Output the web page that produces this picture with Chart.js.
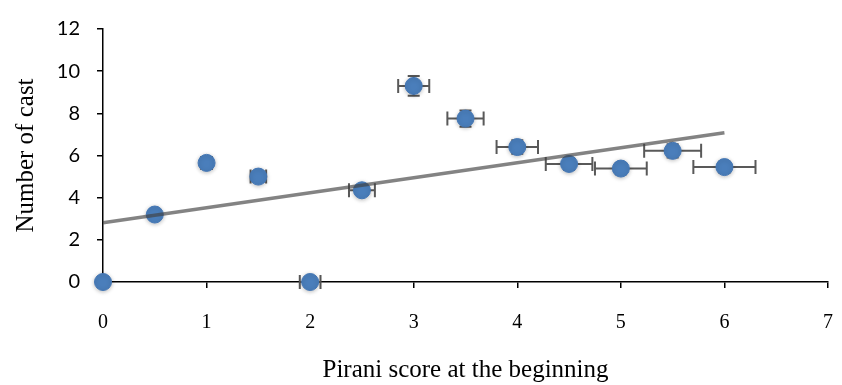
<!DOCTYPE html>
<html>
<head>
<meta charset="utf-8">
<script src="https://cdn.jsdelivr.net/npm/chart.js@4"></script>
<style>
  html, body { margin: 0; padding: 0; background: #fff; }
  #wrap { width: 842px; height: 385px; }
</style>
</head>
<body>
<div id="wrap"><canvas id="chart" width="842" height="385"></canvas></div>
<script>
// Pirani score vs number of casts
const piraniScores = [0, 0.5, 1, 1.5, 2, 2.5, 3, 3.5, 4, 4.5, 5, 5.5, 6];
const castCounts = [0, 3.2, 5.65, 5.0, 0, 4.35, 9.3, 7.75, 6.4, 5.6, 5.38, 6.22, 5.45];
const xErrors = [0, 0.025, 0.05, 0.075, 0.1, 0.125, 0.15, 0.175, 0.2, 0.225, 0.25, 0.275, 0.3];
const yErrors = [0, 0.16, 0.28, 0.25, 0, 0.22, 0.47, 0.39, 0.32, 0.28, 0.27, 0.31, 0.27];
const xTicks = [0, 1, 2, 3, 4, 5, 6, 7];
const yTicks = [0, 2, 4, 6, 8, 10, 12];

// linear trendline (least squares, like Excel)
function linearFit(xs, ys) {
  const n = xs.length;
  const mx = xs.reduce((a, b) => a + b, 0) / n;
  const my = ys.reduce((a, b) => a + b, 0) / n;
  let sxy = 0, sxx = 0;
  xs.forEach((x, i) => { sxy += (x - mx) * (ys[i] - my); sxx += (x - mx) * (x - mx); });
  const slope = sxy / sxx;
  return { slope, intercept: my - slope * mx };
}
const fit = linearFit(piraniScores, castCounts);
const trendX = [piraniScores[0], piraniScores[piraniScores.length - 1]];

const points = piraniScores.map((x, i) => ({ x, y: castCounts[i] }));
const trendPoints = trendX.map(x => ({ x, y: fit.intercept + fit.slope * x }));

// error bars drawn with the chart's scales
const errorBars = {
  id: "errorBars",
  beforeDatasetsDraw(chart) {
    const { ctx, scales: { x, y } } = chart;
    ctx.save();
    ctx.strokeStyle = "#595959";
    ctx.lineWidth = 2;
    points.forEach((p, i) => {
      const px = x.getPixelForValue(p.x);
      const py = y.getPixelForValue(p.y);
      if (xErrors[i] > 0) {
        const l = x.getPixelForValue(p.x - xErrors[i]);
        const r = x.getPixelForValue(p.x + xErrors[i]);
        ctx.beginPath();
        ctx.moveTo(l, py); ctx.lineTo(r, py);
        ctx.moveTo(l, py - 7); ctx.lineTo(l, py + 7);
        ctx.moveTo(r, py - 7); ctx.lineTo(r, py + 7);
        ctx.stroke();
      }
      if (yErrors[i] > 0) {
        const t = y.getPixelForValue(p.y + yErrors[i]);
        const b = y.getPixelForValue(p.y - yErrors[i]);
        ctx.beginPath();
        ctx.moveTo(px, t); ctx.lineTo(px, b);
        ctx.moveTo(px - 6, t); ctx.lineTo(px + 6, t);
        ctx.moveTo(px - 6, b); ctx.lineTo(px + 6, b);
        ctx.stroke();
      }
    });
    ctx.restore();
  }
};

// soft shadow under markers
const markerShadow = {
  id: "markerShadow",
  beforeDatasetDraw(chart, args) {
    if (args.index === 1) {
      chart.ctx.save();
      chart.ctx.shadowColor = "rgba(0,0,0,0.25)";
      chart.ctx.shadowBlur = 4;
      chart.ctx.shadowOffsetY = 1;
    }
  },
  afterDatasetDraw(chart, args) {
    if (args.index === 1) chart.ctx.restore();
  }
};

const ctx = document.getElementById("chart").getContext("2d");
new Chart(ctx, {
  type: "scatter",
  data: {
    datasets: [{
      type: "line",
      data: trendPoints,
      borderColor: "rgba(64,64,64,0.65)",
      borderWidth: 3.5,
      pointRadius: 0,
      fill: false,
      order: 0,
      clip: false
    }, {
      data: points,
      backgroundColor: "#4A7EBB",
      borderColor: "#4477B5",
      borderWidth: 1,
      pointRadius: 8.5,
      pointHoverRadius: 8.5,
      order: 1,
      clip: false
    }]
  },
  options: {
    responsive: false,
    animation: false,
    layout: { padding: { top: 18, right: 0, left: 0, bottom: 0 } },
    plugins: { legend: { display: false }, tooltip: { enabled: false } },
    scales: {
      x: {
        type: "linear",
        min: 0, max: 7,
        afterBuildTicks: s => { s.ticks = xTicks.map(v => ({ value: v })); },
        afterFit: s => { s.height = 103; s.paddingRight = 14; s.paddingLeft = 0; },
        border: { color: "#000", width: 1.5 },
        grid: { drawOnChartArea: false, drawTicks: true, tickLength: 6, color: "#000", lineWidth: 1.5 },
        ticks: { color: "#000", padding: 23, font: { family: "Liberation Serif", size: 20 } },
        title: { display: true, text: "Pirani score at the beginning", color: "#000",
                 padding: { top: 0, bottom: 0 }, font: { family: "Liberation Serif", size: 25 } }
      },
      y: {
        type: "linear",
        min: 0, max: 12,
        afterBuildTicks: s => { s.ticks = yTicks.map(v => ({ value: v })); },
        afterFit: s => { s.width = 103; },
        border: { color: "#000", width: 1.5 },
        grid: { drawOnChartArea: false, drawTicks: true, tickLength: 6, color: "#000", lineWidth: 1.5 },
        ticks: { color: "#000", padding: 17, font: { family: "Lato", size: 20 } },
        title: { display: true, text: "Number of cast", color: "#000",
                 padding: { top: 11, bottom: 0 }, font: { family: "Liberation Serif", size: 25 } }
      }
    }
  },
  plugins: [errorBars, markerShadow]
});
</script>
</body>
</html>
